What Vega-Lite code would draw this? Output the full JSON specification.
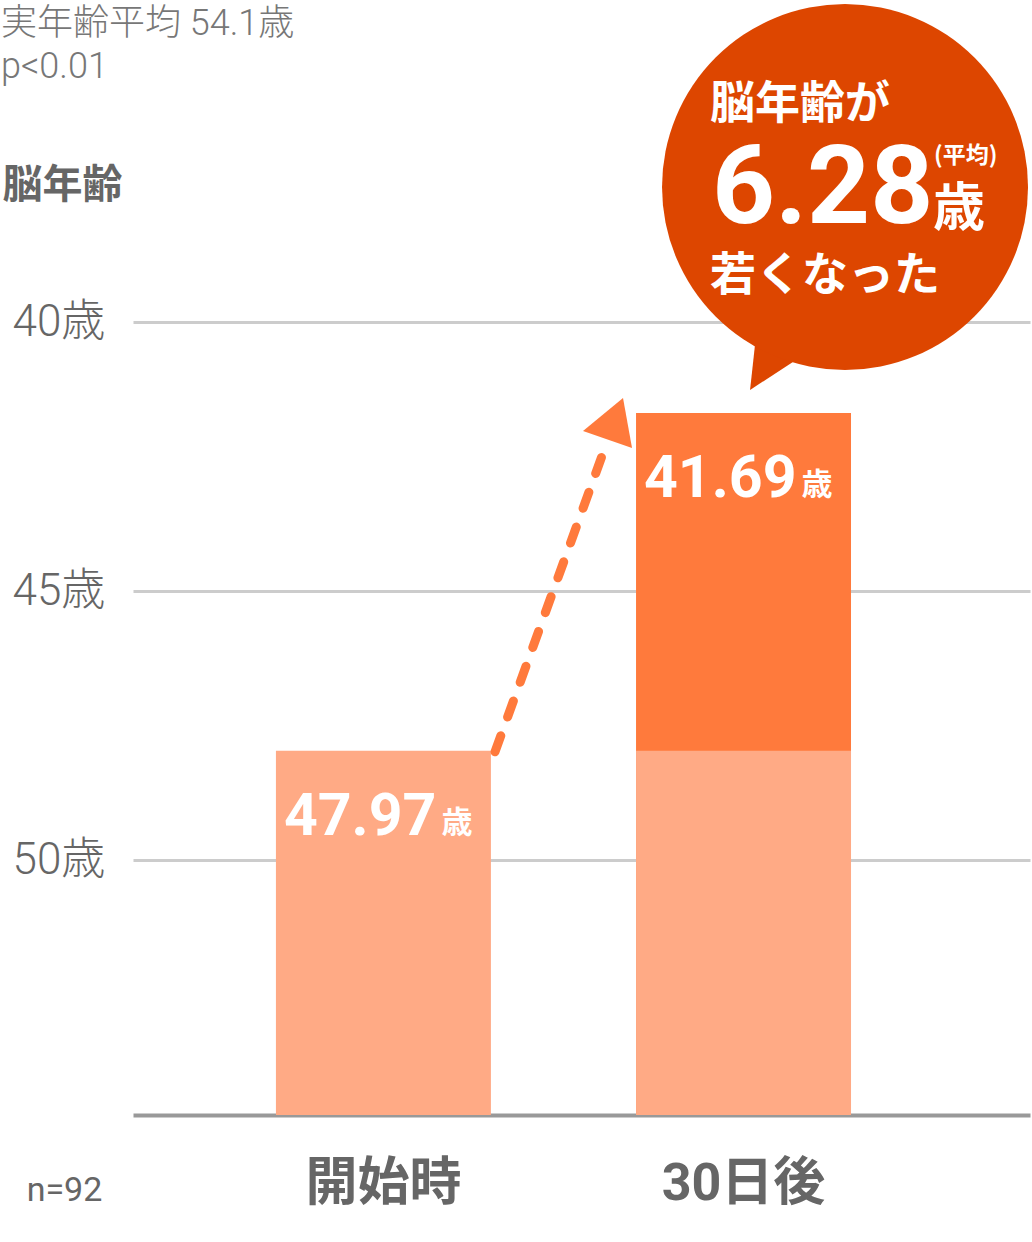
{
  "$schema": "https://vega.github.io/schema/vega-lite/v6.json",
  "width": 897,
  "height": 865,
  "autosize": "none",
  "padding": {"left": 133, "top": 250, "right": 2, "bottom": 127},
  "background": "white",
  "config": {"view": {"stroke": null}, "font": "Roboto, Noto Sans CJK JP"},
  "title": {
    "text": ["実年齢平均 54.1歳", "p<0.01"],
    "anchor": "start",
    "frame": "group",
    "orient": "top",
    "dx": -132,
    "offset": -82,
    "baseline": "top",
    "fontSize": 36,
    "fontWeight": 300,
    "color": "#777777",
    "lineHeight": 43
  },
  "datasets": {
    "stages": [
      {"stage": "開始時", "age": 47.97},
      {"stage": "30日後", "age": 41.69, "before": 47.97}
    ],
    "change": [
      {"from": "開始時", "to": "30日後", "before": 47.97, "after": 41.69, "diff": 6.28}
    ]
  },
  "layer": [
    {
      "data": {"name": "stages"},
      "mark": {"type": "bar"},
      "encoding": {
        "x": {
          "field": "stage", "type": "nominal", "title": "n=92",
          "scale": {"type": "band", "domain": ["開始時", "30日後"], "paddingInner": 0.403, "paddingOuter": 0.447, "align": 0.444},
          "axis": {
            "labelFontSize": 52, "labelFontWeight": "bold", "labelColor": "#666666", "labelAngle": 0,
            "labelBaseline": "middle", "labelPadding": 68, "ticks": false, "tickSize": 0,
            "domainColor": "#999999", "domainWidth": 4, "grid": false,
            "titleX": -69, "titleY": 75, "titleAlign": "center", "titleBaseline": "middle",
            "titleFontSize": 34, "titleFontWeight": "normal", "titleColor": "#666666"
          }
        },
        "y": {
          "field": "age", "type": "quantitative", "title": "脳年齢",
          "scale": {"domain": [38.66, 54.74], "reverse": true, "nice": false, "zero": false},
          "axis": {
            "values": [40, 45, 50], "labelExpr": "datum.value + '歳'",
            "labelAlign": "left", "labelBaseline": "middle", "labelPadding": 121, "labelOverlap": false,
            "ticks": false, "tickSize": 0, "domain": false,
            "grid": true, "gridColor": "#cccccc", "gridWidth": 3,
            "labelFontSize": 44, "labelColor": "#666666", "labelFontWeight": 300,
            "titleAngle": 0, "titleAlign": "left", "titleBaseline": "alphabetic",
            "titleX": -131, "titleY": -53, "titleFontSize": 40, "titleFontWeight": "bold", "titleColor": "#666666"
          }
        },
        "y2": {"datum": 54.74},
        "color": {
          "field": "stage", "type": "nominal", "legend": null,
          "scale": {"domain": ["開始時", "30日後"], "range": ["#FFAA85", "#FF7A3C"]}
        }
      }
    },
    {
      "data": {"name": "stages"},
      "transform": [{"filter": "isValid(datum.before)"}],
      "mark": {"type": "bar", "color": "#FFAA85"},
      "encoding": {
        "x": {"field": "stage", "type": "nominal", "title": "n=92"},
        "y": {"field": "before", "type": "quantitative", "title": "脳年齢"},
        "y2": {"datum": 54.74}
      }
    },
    {
      "data": {"name": "stages"},
      "mark": {"type": "text", "align": "right", "baseline": "alphabetic", "dx": 53, "dy": 84, "fontSize": 59, "fontWeight": "bold", "color": "white", "font": "Roboto"},
      "encoding": {
        "x": {"field": "stage", "type": "nominal", "title": "n=92"},
        "y": {"field": "age", "type": "quantitative", "title": "脳年齢"},
        "text": {"field": "age", "type": "quantitative", "format": ".2f"}
      }
    },
    {
      "data": {"name": "stages"},
      "mark": {"type": "text", "align": "left", "baseline": "alphabetic", "dx": 58, "dy": 82, "fontSize": 31, "fontWeight": "bold", "color": "white", "font": "Noto Sans CJK JP"},
      "encoding": {
        "x": {"field": "stage", "type": "nominal", "title": "n=92"},
        "y": {"field": "age", "type": "quantitative", "title": "脳年齢"},
        "text": {"value": "歳"}
      }
    },
    {
      "data": {"name": "change"},
      "mark": {"type": "rule", "color": "#FF7A3C", "strokeWidth": 9, "strokeDash": [17, 20], "strokeCap": "round", "xOffset": 111.6, "yOffset": 1, "x2Offset": -136.5, "y2Offset": 29},
      "encoding": {
        "x": {"field": "from", "type": "nominal", "title": "n=92"},
        "x2": {"field": "to"},
        "y": {"field": "before", "type": "quantitative", "title": "脳年齢"},
        "y2": {"field": "after"}
      }
    },
    {
      "data": {"name": "change"},
      "mark": {"type": "point", "shape": "M0.206,-0.554L-0.594,0.106L0.386,0.446Z", "size": 10000, "filled": true, "opacity": 1, "color": "#FF7A3C", "strokeWidth": 0, "xOffset": -130.8, "yOffset": 12.7},
      "encoding": {
        "x": {"field": "to", "type": "nominal", "title": "n=92"},
        "y": {"field": "after", "type": "quantitative", "title": "脳年齢"}
      }
    },
    {
      "data": {"name": "change"},
      "mark": {"type": "point", "shape": "M-0.519,1.109L-0.474,0.7L-0.166,0.879Z", "size": 133956, "filled": true, "opacity": 1, "color": "#DD4600", "strokeWidth": 0, "xOffset": 101.5, "yOffset": -226},
      "encoding": {
        "x": {"field": "to", "type": "nominal", "title": "n=92"},
        "y": {"field": "after", "type": "quantitative", "title": "脳年齢"}
      }
    },
    {
      "data": {"name": "change"},
      "mark": {"type": "point", "shape": "circle", "size": 133956, "filled": true, "opacity": 1, "color": "#DD4600", "strokeWidth": 0, "xOffset": 101.5, "yOffset": -226},
      "encoding": {
        "x": {"field": "to", "type": "nominal", "title": "n=92"},
        "y": {"field": "after", "type": "quantitative", "title": "脳年齢"}
      }
    },
    {
      "data": {"name": "change"},
      "mark": {"type": "text", "align": "left", "baseline": "alphabetic", "dx": -33.5, "dy": -294, "fontSize": 45, "fontWeight": "bold", "color": "white", "font": "Noto Sans CJK JP"},
      "encoding": {
        "x": {"field": "to", "type": "nominal", "title": "n=92"},
        "y": {"field": "after", "type": "quantitative", "title": "脳年齢"},
        "text": {"value": "脳年齢が"}
      }
    },
    {
      "data": {"name": "change"},
      "mark": {"type": "text", "align": "left", "baseline": "alphabetic", "dx": -31.5, "dy": -190, "fontSize": 110, "fontWeight": "bold", "color": "white", "font": "Roboto"},
      "encoding": {
        "x": {"field": "to", "type": "nominal", "title": "n=92"},
        "y": {"field": "after", "type": "quantitative", "title": "脳年齢"},
        "text": {"field": "diff", "type": "quantitative", "format": ".2f"}
      }
    },
    {
      "data": {"name": "change"},
      "mark": {"type": "text", "align": "left", "baseline": "alphabetic", "dx": 190.5, "dy": -250, "fontSize": 23, "fontWeight": "bold", "color": "white", "font": "Noto Sans CJK JP"},
      "encoding": {
        "x": {"field": "to", "type": "nominal", "title": "n=92"},
        "y": {"field": "after", "type": "quantitative", "title": "脳年齢"},
        "text": {"value": "(平均)"}
      }
    },
    {
      "data": {"name": "change"},
      "mark": {"type": "text", "align": "left", "baseline": "alphabetic", "dx": 189.5, "dy": -187, "fontSize": 52, "fontWeight": "bold", "color": "white", "font": "Noto Sans CJK JP"},
      "encoding": {
        "x": {"field": "to", "type": "nominal", "title": "n=92"},
        "y": {"field": "after", "type": "quantitative", "title": "脳年齢"},
        "text": {"value": "歳"}
      }
    },
    {
      "data": {"name": "change"},
      "mark": {"type": "text", "align": "left", "baseline": "alphabetic", "dx": -33.5, "dy": -123, "fontSize": 46, "fontWeight": "bold", "color": "white", "font": "Noto Sans CJK JP"},
      "encoding": {
        "x": {"field": "to", "type": "nominal", "title": "n=92"},
        "y": {"field": "after", "type": "quantitative", "title": "脳年齢"},
        "text": {"value": "若くなった"}
      }
    }
  ]
}
